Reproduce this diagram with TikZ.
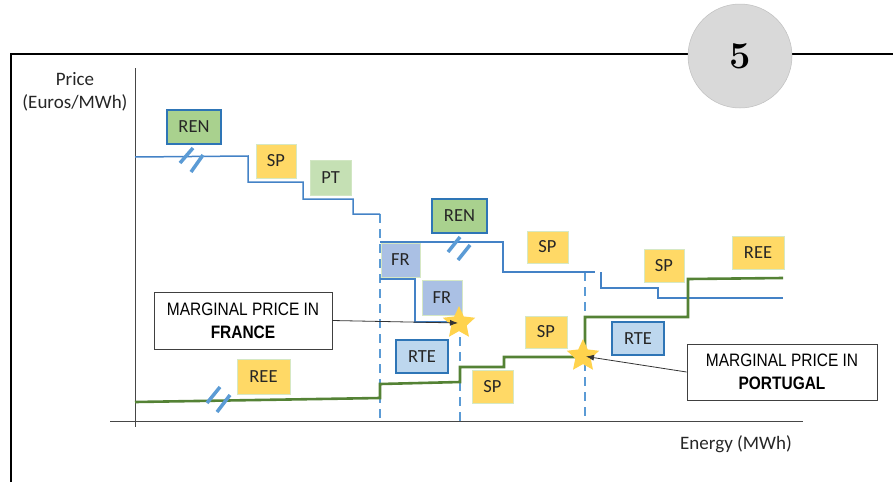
\documentclass[tikz,border=0pt]{standalone}
\usepackage{fontspec}
\setmainfont{Carlito}
\newfontfamily\callfont[FakeStretch=0.86]{Liberation Sans}
\newfontfamily\numfont{Latin Modern Roman}
\usetikzlibrary{shapes.geometric,arrows.meta}
\definecolor{lineblue}{RGB}{68,130,198}
\definecolor{dashblue}{RGB}{91,155,213}
\definecolor{linegreen}{RGB}{84,130,53}
\definecolor{renfill}{RGB}{169,209,142}
\definecolor{boxborder}{RGB}{46,117,182}
\definecolor{gold}{RGB}{255,217,102}
\definecolor{paleborder}{RGB}{214,232,196}
\definecolor{frfill}{RGB}{170,192,228}
\definecolor{rtefill}{RGB}{189,215,238}
\definecolor{ptfill}{RGB}{197,224,180}
\definecolor{stargold}{RGB}{255,211,77}
\definecolor{circfill}{RGB}{217,217,217}
\definecolor{axisgray}{RGB}{70,70,70}
\tikzset{
  lbl/.style={inner sep=0pt, font=\fontsize{18.5}{20}\selectfont, text=black!85},
  renbox/.style={lbl, fill=renfill, draw=boxborder, line width=1.4pt},
  spbox/.style={lbl, fill=gold, draw=paleborder, line width=1pt},
  frbox/.style={lbl, fill=frfill, draw=paleborder, line width=1pt},
  rtebox/.style={lbl, fill=rtefill, draw=boxborder, line width=1.4pt},
  ptbox/.style={lbl, fill=ptfill, draw=ptfill!80!white, line width=1pt},
  callbox/.style={draw=black!75, fill=white, line width=0.9pt, align=center,
     inner sep=0pt, font=\callfont\fontsize{18}{23}\selectfont},
  bluestep/.style={draw=lineblue, line width=1.5pt},
  greenstep/.style={draw=linegreen, line width=2.6pt},
  dashv/.style={draw=dashblue, line width=2.4pt, dash pattern=on 9pt off 6pt},
  brk/.style={draw=dashblue, line width=3.5pt},
  starmark/.style={star, star points=5, star point ratio=2.1, minimum size=34pt,
     inner sep=0pt, fill=stargold, draw=none},
  arrowline/.style={draw=black!80, line width=0.8pt, -{Latex[length=8pt,width=6pt]}}
}
\begin{document}
\begin{tikzpicture}[x=1pt,y=-1pt]
\useasboundingbox (0,0) rectangle (893,482);
% frame
\draw[line width=1.6pt] (11,482) -- (11,54) -- (893,54);
\node[circle, minimum size=104pt, inner sep=0pt, fill=circfill, draw=black!25, line width=0.5pt] (pagenum) at (740,56) {};
\node[font=\numfont\bfseries\fontsize{38}{40}\selectfont] (numtxt) at (pagenum) {5};
% axes
\draw[axisgray, line width=1pt] (135,68) -- (135,427);
\draw[axisgray, line width=1pt] (110,421) -- (803,421);
\node[font=\fontsize{19}{23}\selectfont, align=center, text=black!85] (ylab) at (75,92) {Price\\(Euros/MWh)};
\node[font=\fontsize{19}{23}\selectfont, text=black!85] (xlab) at (736,444) {Energy (MWh)};
% dashed verticals
\draw[dashv] (380,214) -- (380,421);
\draw[dashv] (460,322) -- (460,421);
\draw[dashv] (585,272) -- (585,421);
% blue supply steps
\draw[bluestep] (135,157) -- (248,156) -- (248,182) -- (303,182) -- (303,199) -- (353,199) -- (353,214) -- (380,214);
\draw[bluestep] (380,279) -- (415,279) -- (415,322) -- (460,322);
\draw[bluestep] (380,242) -- (503,242) -- (503,272) -- (595,272);
\draw[bluestep] (601,272) -- (601,288) -- (658,288) -- (658,298) -- (783,298);
% green steps
\draw[greenstep] (135,402) -- (380,398) -- (380,384) -- (460,382) -- (460,367) -- (504,367) -- (504,357) -- (585,357) -- (585,317) -- (688,317) -- (688,279) -- (783,278);
% break marks
\draw[brk] (180,163) -- (193,148);
\draw[brk] (191,172) -- (203,155);
\draw[brk] (448,252) -- (460,237);
\draw[brk] (458,260) -- (470,245);
\draw[brk] (207,403) -- (220,387);
\draw[brk] (217,412) -- (230,395);
% boxes
\node[renbox, minimum width=54pt, minimum height=34pt] (ren1) at (194,127) {REN};
\node[spbox, minimum width=40pt, minimum height=34pt] (sp1) at (276,161) {SP};
\node[ptbox, minimum width=41pt, minimum height=35pt] (pt) at (330.5,177.5) {PT};
\node[renbox, minimum width=55pt, minimum height=34pt] (ren2) at (459.5,216) {REN};
\node[spbox, minimum width=41pt, minimum height=32pt] (sp2) at (547.5,247) {SP};
\node[frbox, minimum width=39pt, minimum height=34pt] (fr1) at (400.5,260) {FR};
\node[frbox, minimum width=40pt, minimum height=35pt] (fr2) at (442,297.5) {FR};
\node[rtebox, minimum width=52pt, minimum height=33pt] (rte1) at (422,356.5) {RTE};
\node[spbox, minimum width=42pt, minimum height=32pt] (sp3) at (546,332) {SP};
\node[spbox, minimum width=41pt, minimum height=33pt] (sp4) at (492.5,386.5) {SP};
\node[spbox, minimum width=53pt, minimum height=35pt] (ree1) at (263.5,376.5) {REE};
\node[spbox, minimum width=40pt, minimum height=33pt] (sp5) at (664,265.5) {SP};
\node[spbox, minimum width=52pt, minimum height=33pt] (ree2) at (758,252.5) {REE};
\node[rtebox, minimum width=52pt, minimum height=33pt] (rte2) at (638,338.5) {RTE};
% stars
\node[starmark] (star1) at (459,323) {};
\node[starmark] (star2) at (583,356) {};
% callouts
\node[callbox, minimum width=178pt, minimum height=57pt] (callF) at (243,320.5) {MARGINAL PRICE IN\\\textbf{FRANCE}};
\node[callbox, minimum width=190pt, minimum height=56pt] (callP) at (782,372) {MARGINAL PRICE IN\\\textbf{PORTUGAL}};
\draw[arrowline, shorten >=1pt] (callF.east) -- (star1.center);
\draw[arrowline, shorten >=3pt] (callP.west) -- (star2.center);
\end{tikzpicture}
\end{document}
